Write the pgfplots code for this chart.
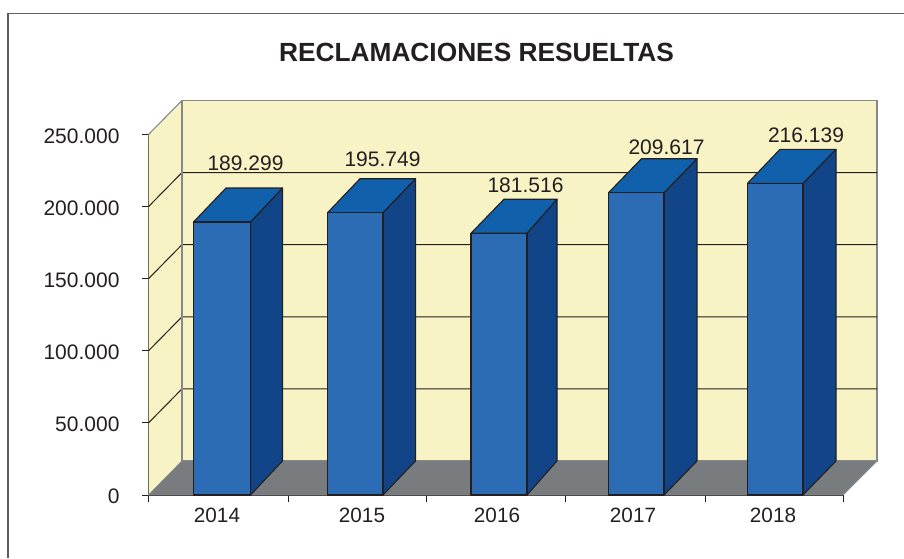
\documentclass[border=0pt]{standalone}
\usepackage{fontspec}
\setmainfont{Liberation Sans}
\usepackage{pgfplots}
\pgfplotsset{compat=1.18}

\definecolor{wallc}{HTML}{F8F3C4}
\definecolor{floorc}{HTML}{797C7E}
\definecolor{frontc}{HTML}{2C6CB4}
\definecolor{sidec}{HTML}{124587}
\definecolor{topc}{HTML}{1060AC}
\definecolor{ink}{HTML}{231F20}
\definecolor{edgegray}{HTML}{85878A}

\pgfplotsset{
  wall/.style={fill=wallc, draw=edgegray, line width=1.1pt},
  floorp/.style={fill=floorc, draw=edgegray, line width=0.8pt},
  gridl/.style={draw=ink, line width=1pt},
  front/.style={fill=frontc, draw=ink, line width=1.1pt, line join=round},
  side/.style={fill=sidec, draw=ink, line width=1.1pt, line join=round},
  topf/.style={fill=topc, draw=ink, line width=1.1pt, line join=round},
}
\newcommand{\vlabel}[3]{\node[text=ink, font=\fontsize{21}{22}\selectfont] at (axis cs:#1,#2) {#3};}

\begin{document}
\begin{tikzpicture}[x=1pt,y=1pt]
\useasboundingbox (0,0) rectangle (904,558);
\begin{axis}[
  at={(148.5pt,63pt)},
  anchor=south west,
  scale only axis,
  width=694.5pt,
  height=360.5pt,
  xmin=148.5, xmax=843,
  ymin=0, ymax=250000,
  clip=false,
  axis x line*=bottom,
  axis y line*=left,
  axis line style={ink, line width=1.4pt},
  tick align=outside,
  major tick length=6.5pt,
  tick style={ink, line width=1pt},
  xtick={148.5,288,426,565,705,843},
  xticklabels={},
  extra x ticks={217,362,497,633,773},
  extra x tick labels={2014,2015,2016,2017,2018},
  extra x tick style={major tick length=0pt, xticklabel style={yshift=-10pt}},
  ytick={0,50000,100000,150000,200000,250000},
  yticklabels={0,50.000,100.000,150.000,200.000,250.000},
  scaled y ticks=false,
  tick label style={text=ink, font=\fontsize{21}{22}\selectfont},
  xticklabel style={font=\fontsize{20.7}{22}\selectfont},
  yticklabel style={xshift=-19pt, yshift=-1.5pt},
  title={\textbf{RECLAMACIONES RESUELTAS}},
  title style={at={(0.4723,1.2288)}, anchor=center, yshift=-6pt, text=ink, font=\fontsize{26.3}{28}\selectfont},
]
% walls and floor
\addplot[wall, draw=none] coordinates {(148.5,0) (182,23600) (182,273600) (148.5,250000)} --cycle;
\addplot[wall] coordinates {(182,23600) (877,23600) (877,273600) (182,273600)} --cycle;
\addplot[edgegray, line width=1.1pt] coordinates {(148.5,250000) (182,273600)};
\addplot[floorp] coordinates {(148.5,0) (843,0) (877,23600) (182,23600)} --cycle;
% grid on the walls
\addplot[gridl] coordinates {(148.5,50000) (182,73600) (877,73600)};
\addplot[gridl] coordinates {(148.5,100000) (182,123600) (877,123600)};
\addplot[gridl] coordinates {(148.5,150000) (182,173600) (877,173600)};
\addplot[gridl] coordinates {(148.5,200000) (182,223600) (877,223600)};
\addplot[edgegray, line width=1.1pt] coordinates {(182,23600) (182,273600)};
% 2014
\addplot[side] coordinates {(250.5,0) (282.5,23600) (282.5,212899) (250.5,189299)} --cycle;
\addplot[topf] coordinates {(193.5,189299) (250.5,189299) (282.5,212899) (226,212899)} --cycle;
\addplot[front] coordinates {(193.5,0) (250.5,0) (250.5,189299) (193.5,189299)} --cycle;
% 2015
\addplot[side] coordinates {(383,0) (415.5,23600) (415.5,219349) (383,195749)} --cycle;
\addplot[topf] coordinates {(327.5,195749) (383,195749) (415.5,219349) (360,219349)} --cycle;
\addplot[front] coordinates {(327.5,0) (383,0) (383,195749) (327.5,195749)} --cycle;
% 2016
\addplot[side] coordinates {(527,0) (557,23600) (557,205116) (527,181516)} --cycle;
\addplot[topf] coordinates {(471,181516) (527,181516) (557,205116) (504,205116)} --cycle;
\addplot[front] coordinates {(471,0) (527,0) (527,181516) (471,181516)} --cycle;
% 2017
\addplot[side] coordinates {(664,0) (697,23600) (697,233217) (664,209617)} --cycle;
\addplot[topf] coordinates {(608.5,209617) (664,209617) (697,233217) (641.5,233217)} --cycle;
\addplot[front] coordinates {(608.5,0) (664,0) (664,209617) (608.5,209617)} --cycle;
% 2018
\addplot[side] coordinates {(803,0) (836,23600) (836,239739) (803,216139)} --cycle;
\addplot[topf] coordinates {(747.5,216139) (803,216139) (836,239739) (780,239739)} --cycle;
\addplot[front] coordinates {(747.5,0) (803,0) (803,216139) (747.5,216139)} --cycle;
% value labels
\vlabel{245.5}{229800}{189.299}
\vlabel{382.5}{233100}{195.749}
\vlabel{525.5}{215100}{181.516}
\vlabel{666.5}{240800}{209.617}
\vlabel{806}{249800}{216.139}
\end{axis}
% outer frame, cut by the page on two sides
\draw[edgegray!70!black, line width=1.2pt] (8,0) -- (8,544.5) -- (904,544.5);
\end{tikzpicture}
\end{document}
